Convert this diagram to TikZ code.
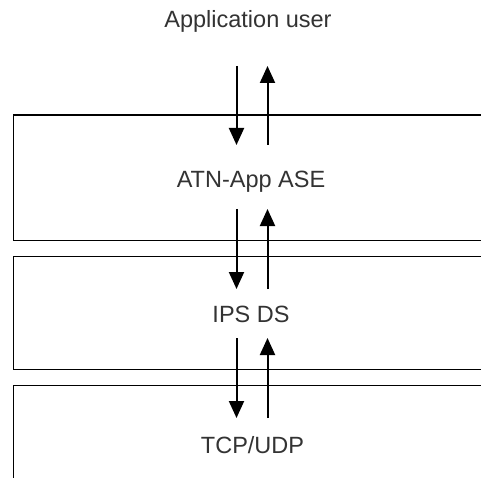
\documentclass[tikz,border=0pt]{standalone}
\usepackage{fontspec}
\setmainfont{Liberation Sans}
\usetikzlibrary{arrows.meta}
\begin{document}
\begin{tikzpicture}[x=1pt,y=-1pt,
  layerbox/.style={draw=black, line width=1.3pt, inner sep=0pt, anchor=north west},
  lbl/.style={font=\fontsize{23.5}{28}\selectfont, text=black!80, inner sep=0pt, anchor=base},
  flow/.style={line width=2pt, -{Triangle[width=15pt,length=17pt]}}]
\clip (0,0) rectangle (481,478);
\fill[white] (0,0) rectangle (481,478);
\node[layerbox, minimum width=490pt, minimum height=125.5pt] (ase) at (12.5,114.5) {};
\node[layerbox, minimum width=490pt, minimum height=113pt] (ips) at (12.5,256) {};
\node[layerbox, minimum width=490pt, minimum height=120pt] (tcp) at (12.5,385) {};
\node[lbl] (user) at (248,28) {Application user};
\node[lbl] (aseT) at (251,188) {ATN-App ASE};
\node[lbl] (ipsT) at (251,322) {IPS DS};
\node[lbl] (tcpT) at (252.5,453) {TCP/UDP};
\coordinate (d1s) at (236.5,66); \coordinate (d1e) at (236.5,145);
\coordinate (u1s) at (267.5,145); \coordinate (u1e) at (267.5,66);
\coordinate (d2s) at (236.5,209); \coordinate (d2e) at (236.5,289);
\coordinate (u2s) at (267.5,289); \coordinate (u2e) at (267.5,209);
\coordinate (d3s) at (236.5,338); \coordinate (d3e) at (236.5,418);
\coordinate (u3s) at (267.5,418); \coordinate (u3e) at (267.5,338);
\draw[flow] (d1s) -- (d1e);
\draw[flow] (u1s) -- (u1e);
\draw[flow] (d2s) -- (d2e);
\draw[flow] (u2s) -- (u2e);
\draw[flow] (d3s) -- (d3e);
\draw[flow] (u3s) -- (u3e);
\end{tikzpicture}
\end{document}
